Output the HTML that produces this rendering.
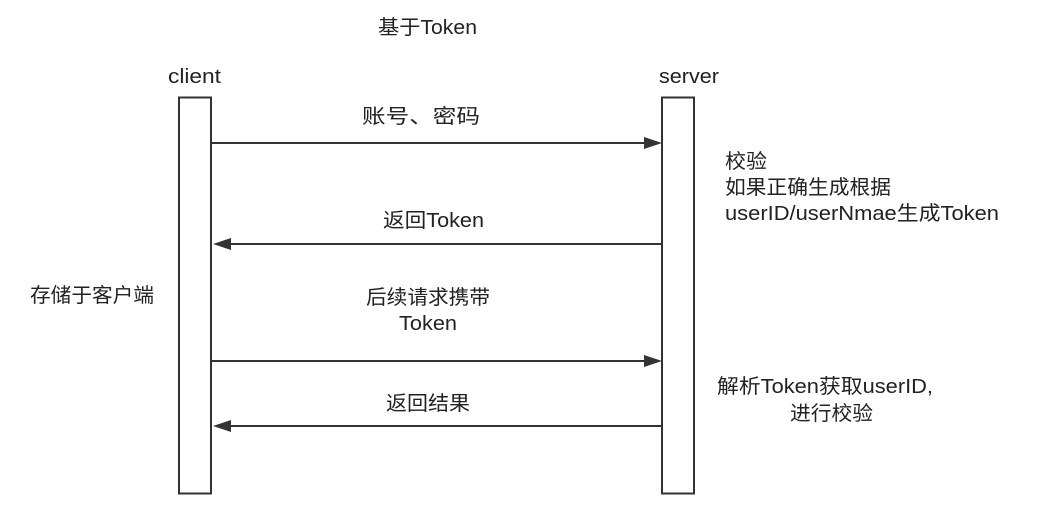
<!DOCTYPE html>
<html><head><meta charset="utf-8"><style>
html,body{margin:0;padding:0;background:#fff;}
svg text{font-family:"Liberation Sans","Noto Sans CJK SC",sans-serif;font-size:20px;fill:#222;}
</style></head><body>
<svg width="1060" height="524" xmlns="http://www.w3.org/2000/svg">
<rect x="179" y="97.5" width="32" height="396" fill="#fff" stroke="#333" stroke-width="2"/>
<rect x="662" y="97.5" width="32" height="396" fill="#fff" stroke="#333" stroke-width="2"/>
<g stroke="#333" stroke-width="2">
<line x1="211" y1="143" x2="645" y2="143"/>
<line x1="662" y1="244" x2="228" y2="244"/>
<line x1="211" y1="361" x2="645" y2="361"/>
<line x1="662" y1="426" x2="228" y2="426"/>
</g>
<g fill="#333">
<polygon points="662,143 644,137 644,149"/>
<polygon points="213,244 231,238 231,250"/>
<polygon points="662,361 644,355 644,367"/>
<polygon points="213,426 231,420 231,432"/>
</g>
<text x="378" y="34" textLength="99" lengthAdjust="spacingAndGlyphs">基于Token</text>
<text x="168" y="83" textLength="53" lengthAdjust="spacingAndGlyphs">client</text>
<text x="659" y="83" textLength="60" lengthAdjust="spacingAndGlyphs">server</text>
<text x="362" y="123" textLength="118" lengthAdjust="spacingAndGlyphs">账号、密码</text>
<text x="383" y="227" textLength="101" lengthAdjust="spacingAndGlyphs">返回Token</text>
<text x="366" y="304" textLength="124" lengthAdjust="spacingAndGlyphs">后续请求携带</text>
<text x="399" y="330" textLength="58" lengthAdjust="spacingAndGlyphs">Token</text>
<text x="386" y="410" textLength="84" lengthAdjust="spacingAndGlyphs">返回结果</text>
<text x="30" y="302" textLength="124" lengthAdjust="spacingAndGlyphs">存储于客户端</text>
<text x="725" y="168" textLength="42" lengthAdjust="spacingAndGlyphs">校验</text>
<text x="725" y="194" textLength="166" lengthAdjust="spacingAndGlyphs">如果正确生成根据</text>
<text x="725" y="220" textLength="274" lengthAdjust="spacingAndGlyphs">userID/userNmae生成Token</text>
<text x="717" y="393" textLength="216" lengthAdjust="spacingAndGlyphs">解析Token获取userID,</text>
<text x="790" y="420" textLength="83" lengthAdjust="spacingAndGlyphs">进行校验</text>
</svg>
</body></html>
